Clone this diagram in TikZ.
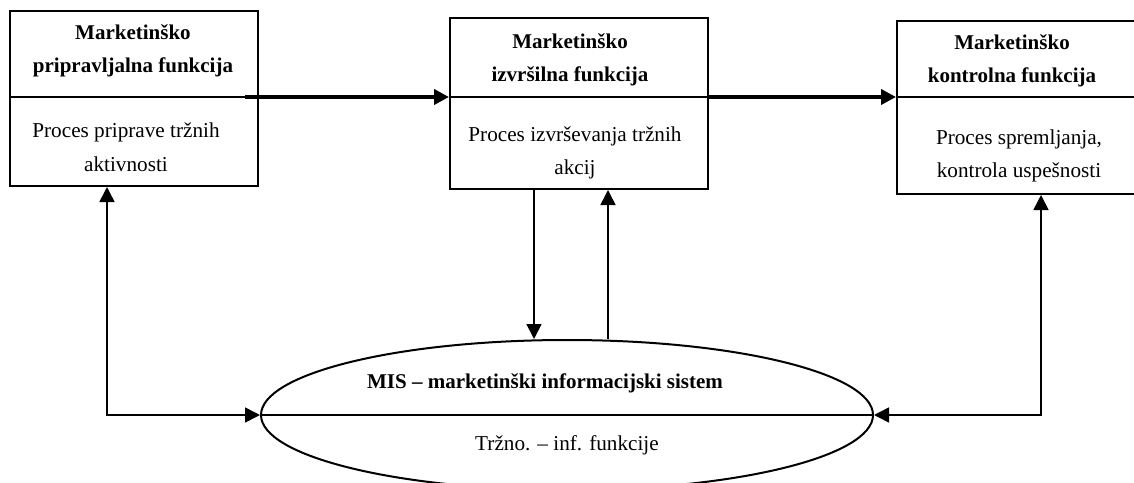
\documentclass[tikz,border=0pt]{standalone}
\usepackage{fontspec}
\setmainfont{Liberation Serif}
\usepackage{tikz}
\usetikzlibrary{arrows.meta,positioning,shapes.geometric}

\begin{document}
\begin{tikzpicture}[
x=0.5pt, y=-0.5pt,
>={Triangle[length=7.5pt,width=7.5pt]},
funcbox/.style={
draw,
line width=1pt,
anchor=north west,
inner sep=0pt
},
title/.style={
align=center,
font=\fontsize{10.5}{16.8}\selectfont\bfseries
},
body/.style={
align=center,
font=\fontsize{10.6}{16.8}\selectfont
},
flow/.style={
->,
line width=2pt
},
link/.style={
line width=0.8pt
}
]
\useasboundingbox (0,0) rectangle (1134,482);
\clip (0,0) rectangle (1134,482);

% three function boxes
\node[funcbox, minimum width=124pt, minimum height=87.5pt] (prip) at (9,10) {};
\node[funcbox, minimum width=129pt, minimum height=85.5pt] (izv) at (449,17) {};
\node[funcbox, minimum width=123pt, minimum height=86.5pt] (kon) at (896,20) {};

\path (prip.west |- 0,97) coordinate (prip-dw) (prip.east |- 0,97) coordinate (prip-de);
\path (izv.west |- 0,97) coordinate (izv-dw) (izv.east |- 0,97) coordinate (izv-de);
\path (kon.west |- 0,97) coordinate (kon-dw) (kon.east |- 0,97) coordinate (kon-de);
\draw[line width=1pt] (prip-dw) -- (prip-de);
\draw[line width=1pt] (izv-dw) -- (izv-de);
\draw[line width=1pt] (kon-dw) -- (kon-de);

\node[title] (prip-t) at (133,51) {Marketinško\\pripravljalna funkcija};
\node[body] (prip-b) at (126,147) {Proces priprave tržnih\\aktivnosti};
\node[title] (izv-t) at (570,60) {Marketinško\\izvršilna funkcija};
\node[body] (izv-b) at (575,153) {Proces izvrševanja tržnih\\akcij};
\node[title] (kon-t) at (1012,61) {Marketinško\\kontrolna funkcija};
\node[body] (kon-b) at (1019,156) {Proces spremljanja,\\kontrola uspešnosti};

% MIS ellipse
\node[ellipse, draw, line width=1pt, minimum width=306pt, minimum height=75pt, inner sep=0pt] (mis) at (567,415) {};
\draw[line width=1pt] (mis.west) -- (mis.east);
\node[title] (mis-t) at (545,383) {MIS -- marketinški informacijski sistem};
\node[body] (mis-b) at (567,445) {Tržno. -- inf. funkcije};

% connectors
\draw[flow] ([xshift=-7pt]prip-de) -- (izv-dw);
\draw[flow] (izv-de) -- (kon-dw);
\draw[link, <->] (prip.south -| 107,0) |- (mis.west);
\draw[link, ->] (izv.south -| 534,0) -- (mis.north -| 534,0);
\draw[link, <-] (izv.south -| 608,0) -- (mis.north -| 608,0);
\draw[link, <->] (kon.south -| 1041,0) |- (mis.east);

\end{tikzpicture}
\end{document}
